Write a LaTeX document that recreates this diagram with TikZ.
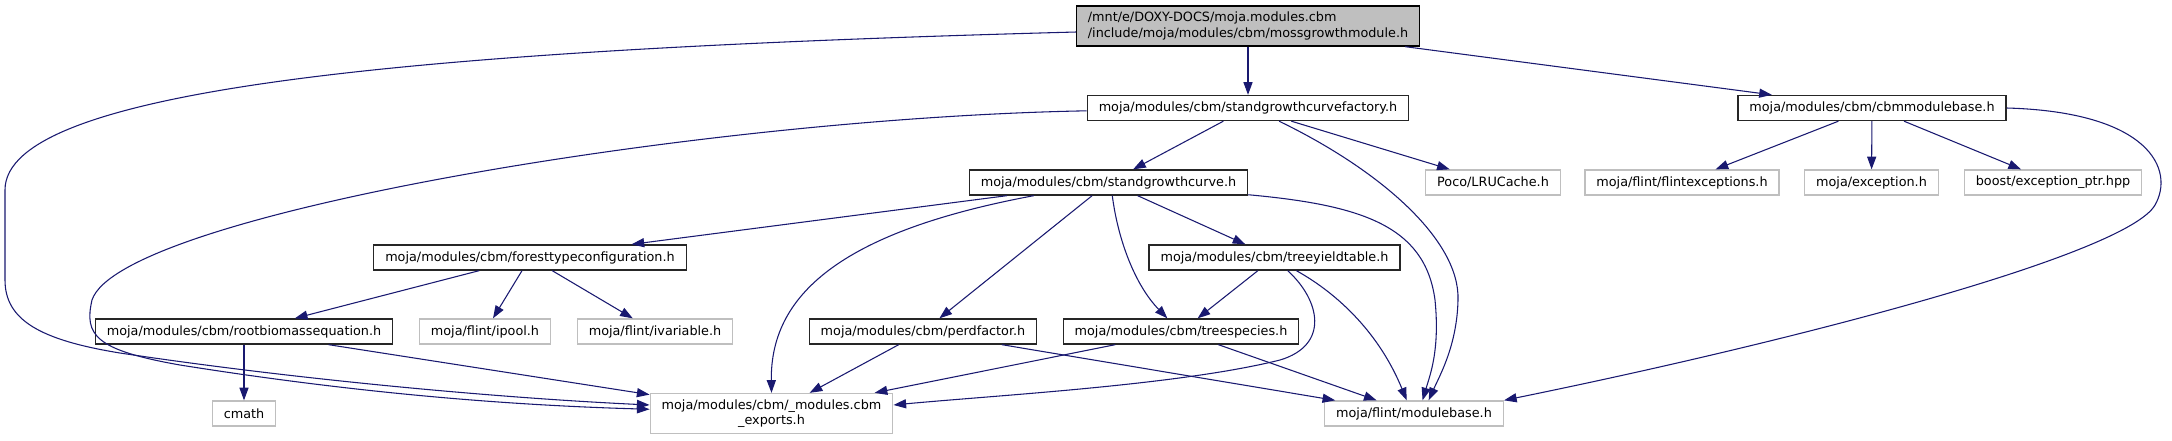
\documentclass[tikz,border=0pt]{standalone}
\usepackage{fontspec}
\setmainfont{DejaVu Sans}
\definecolor{edgeblue}{rgb}{0.1, 0.1, 0.44}
\definecolor{docgray}{rgb}{0.15, 0.15, 0.15}
\definecolor{extgray}{rgb}{0.75, 0.75, 0.75}
\usetikzlibrary{arrows.meta}

\begin{document}
\begin{tikzpicture}[x=0.75pt,y=0.75pt,yscale=-1,xscale=1,
	hdr/.style={draw=docgray, fill=white, line width=1pt, inner xsep=8.6pt, inner ysep=0pt, minimum height=18.75pt, font=\fontsize{9.6pt}{11.4pt}\selectfont},
	ext/.style={hdr, draw=extgray},
	rootbox/.style={hdr, draw=black, fill=extgray, align=left, minimum height=30pt},
	dep/.style={draw=edgeblue, line width=0.8pt, -{Triangle[length=9.5pt,width=6.8pt]}}]
	\useasboundingbox (0,0) rectangle (2172,440);
	
	% Text Node
	\node [rootbox] (root) at (1248,26) {/mnt/e/DOXY-DOCS/moja.modules.cbm\\/include/moja/modules/cbm/mossgrowthmodule.h};
	% Text Node
	\node [hdr] (fac) at (1248,108) {moja/modules/cbm/standgrowthcurvefactory.h};
	\node [hdr] (cbm) at (1872,108) {moja/modules/cbm/cbmmodulebase.h};
	% Text Node
	\node [hdr] (sgc) at (1108.5,182.5) {moja/modules/cbm/standgrowthcurve.h};
	\node [ext] (lru) at (1493,182.5) {Poco/LRUCache.h};
	\node [ext] (flex) at (1682,182.5) {moja/flint/flintexceptions.h};
	\node [ext] (exc) at (1871.5,182.5) {moja/exception.h};
	\node [ext] (bexp) at (2053,182.5) {boost/exception\_ptr.hpp};
	% Text Node
	\node [hdr] (ftc) at (530,257.5) {moja/modules/cbm/foresttypeconfiguration.h};
	\node [hdr] (tyt) at (1274.5,257.5) {moja/modules/cbm/treeyieldtable.h};
	% Text Node
	\node [hdr] (rbe) at (244,331.5) {moja/modules/cbm/rootbiomassequation.h};
	\node [ext] (ipool) at (485,331.5) {moja/flint/ipool.h};
	\node [ext] (ivar) at (655,331.5) {moja/flint/ivariable.h};
	\node [hdr] (pdf) at (923,331.5) {moja/modules/cbm/perdfactor.h};
	\node [hdr] (tsp) at (1181,331.5) {moja/modules/cbm/treespecies.h};
	% Text Node
	\node [ext] (cmath) at (244,413.5) {cmath};
	\node [ext, align=center, minimum height=30pt] (cbmexp) at (771.5,413.5) {moja/modules/cbm/\_modules.cbm\\\_exports.h};
	\node [ext] (mb) at (1414,413.5) {moja/flint/modulebase.h};
	
	%Straight Lines
	\draw [dep] (root) -- (fac);
	\draw [dep] (root) -- (cbm);
	\draw [dep] (fac) -- (sgc);
	\draw [dep] (fac) -- (lru);
	\draw [dep] (cbm) -- (flex);
	\draw [dep] (cbm) -- (exc);
	\draw [dep] (cbm) -- (bexp);
	\draw [dep] (sgc) -- (ftc);
	\draw [dep] (sgc) -- (tyt);
	\draw [dep] (sgc) -- (pdf);
	\draw [dep] (ftc) -- (rbe);
	\draw [dep] (ftc) -- (ipool);
	\draw [dep] (ftc) -- (ivar);
	\draw [dep] (tyt) -- (tsp);
	\draw [dep] (rbe) -- (cmath);
	\draw [dep] (rbe) -- (cbmexp);
	\draw [dep] (pdf) -- (cbmexp);
	\draw [dep] (pdf) -- (mb);
	\draw [dep] (tsp) -- (cbmexp);
	\draw [dep] (tsp) -- (mb);
	
	%Curve Lines
	\draw [dep] (root.182) .. controls (400,50) and (5,90) .. (5,190) -- (5,280) .. controls (5,320) and (40,340) .. (120,353) .. controls (300,380) and (500,398) .. (cbmexp.176);
	\draw [dep] (fac.181.5) .. controls (700,118) and (120,215) .. (92,300) .. controls (84,335) and (95,350) .. (180,365) .. controls (350,392) and (500,405) .. (cbmexp.178.5);
	\draw [dep] (sgc.190) .. controls (850,230) and (770,290) .. (cbmexp.north);
	\draw [dep] (sgc.-74) .. controls (1118,240) and (1135,285) .. (tsp.136);
	\draw [dep] (sgc.-5) .. controls (1360,205) and (1425,225) .. (1435,300) .. controls (1440,350) and (1430,375) .. (mb.57);
	\draw [dep] (fac.-23) .. controls (1380,170) and (1460,240) .. (1458,300) .. controls (1457,345) and (1440,375) .. (mb.42);
	\draw [dep] (tyt.-45) .. controls (1320,300) and (1330,345) .. (1280,360) .. controls (1180,385) and (1000,395) .. (cbmexp.4);
	\draw [dep] (tyt.-31) .. controls (1340,295) and (1380,335) .. (mb.119);
	\draw [dep] (cbm.east) .. controls (2150,112) and (2175,170) .. (2155,205) .. controls (2127,254) and (1800,340) .. (mb.north east);
	
\end{tikzpicture}
\end{document}
